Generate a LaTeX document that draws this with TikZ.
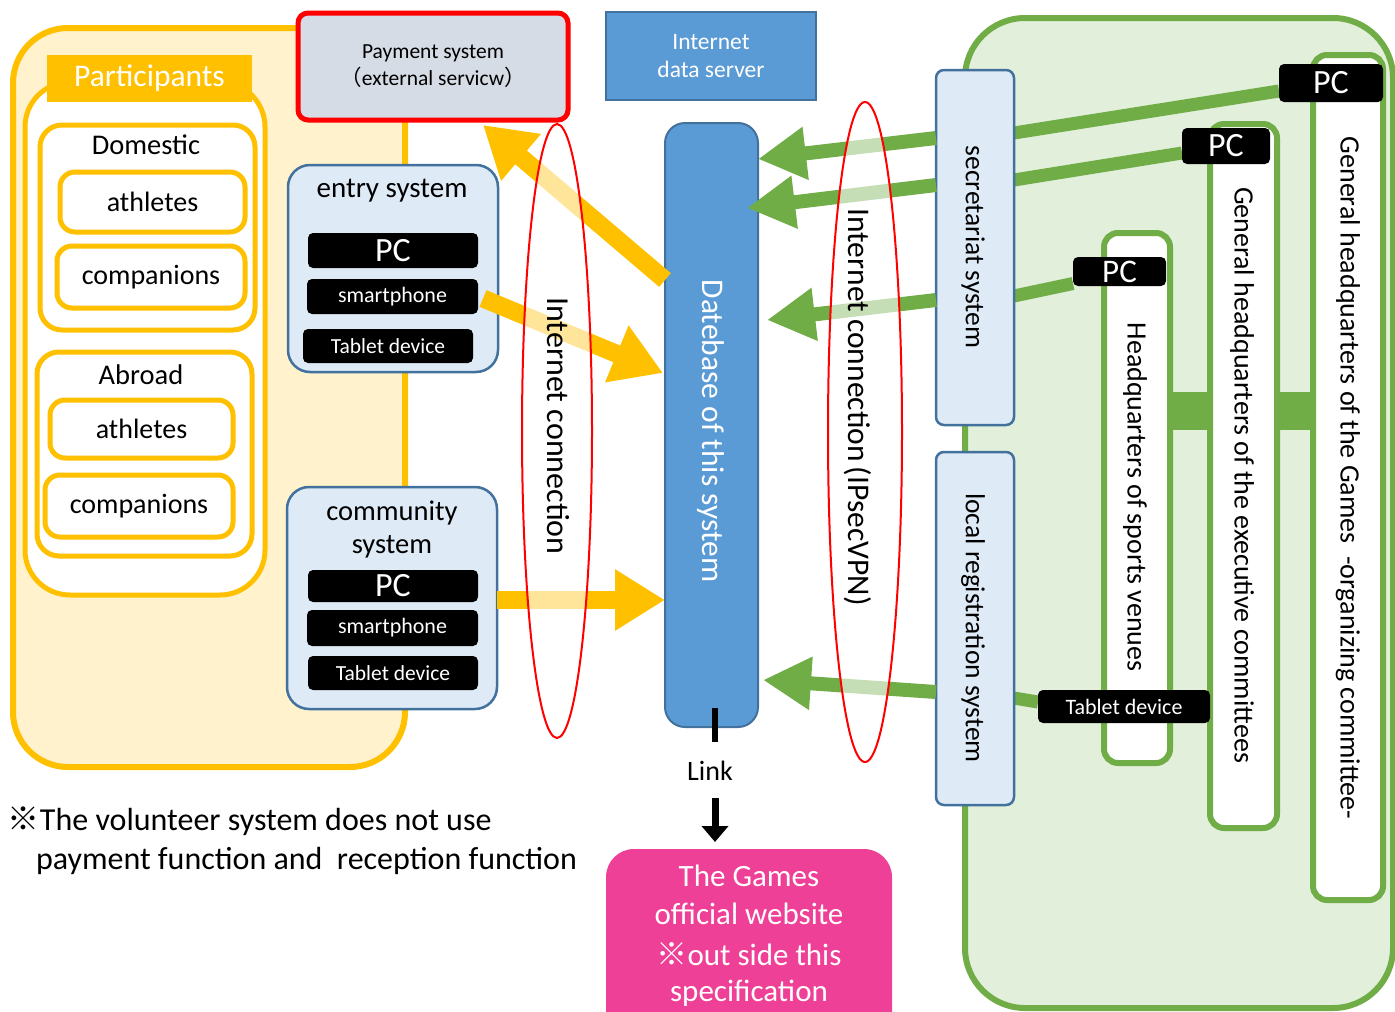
\documentclass[tikz,border=0pt]{standalone}
\usepackage{fontspec}
\setmainfont{Carlito}
\newfontfamily\cjk{Noto Sans CJK JP}
\usetikzlibrary{arrows.meta,shapes.geometric}
\definecolor{ygold}{HTML}{FFC000}
\definecolor{ylight}{HTML}{FFF2CC}
\definecolor{gfill}{HTML}{E2EFDA}
\definecolor{ggreen}{HTML}{70AD47}
\definecolor{bfill}{HTML}{DEEBF7}
\definecolor{bedge}{HTML}{41719C}
\definecolor{bmid}{HTML}{5B9BD5}
\definecolor{payfill}{HTML}{D6DCE5}
\definecolor{pinkbox}{RGB}{238,64,150}
\newcommand\fsz[2]{\fontsize{#1}{#2}\selectfont}
\pgfdeclarelayer{back}
\pgfdeclarelayer{mid}
\pgfdeclarelayer{front}
\pgfsetlayers{back,mid,main,front}
\tikzset{
 nw/.style={anchor=north west, inner sep=0pt, outer sep=0pt},
 txt/.style={inner sep=0pt, outer sep=0pt, text=black},
 yellowframe/.style={nw, draw=ygold, line width=5pt, fill=white},
 blackbox/.style={nw, fill=black, rounded corners=5pt, text=white},
 bluebox/.style={nw, fill=bfill, draw=bedge, line width=2.5pt},
 greenbar/.style={nw, fill=white, draw=ggreen, line width=6pt, rounded corners=14pt},
 band/.style={draw=ggreen, line width=38pt},
 yarrow/.style={draw=ygold, line width=18pt, -{Triangle[length=50pt,width=58pt]}},
 garrow/.style={draw=ggreen, line width=14pt, -{Triangle[length=48pt,width=50pt]}},
 gline/.style={draw=ggreen, line width=13pt},
 netring/.style={ellipse, draw=red, line width=2pt, fill=white, fill opacity=0.6, inner sep=0pt},
}
\begin{document}
\begin{tikzpicture}[x=1pt,y=-1pt]
\useasboundingbox (0,0) rectangle (1395,1012);
% ---------- staff area ----------
\begin{pgfonlayer}{back}
\node[nw, draw=ggreen, fill=gfill, line width=6pt, rounded corners=60pt, minimum width=428pt, minimum height=990pt] (staffArea) at (965,18) {};
\end{pgfonlayer}
% ---------- participants ----------
\node[nw, draw=ygold, fill=ylight, line width=6pt, rounded corners=55pt, minimum width=392pt, minimum height=739pt] (partArea) at (13,28) {};
\node[yellowframe, rounded corners=45pt, minimum width=240pt, minimum height=513pt] (partInner) at (25,82) {};
\node[nw, fill=ygold, minimum width=205pt, minimum height=47pt, text=white, font=\fsz{31.5}{36}] (partTitle) at (47,55) {Participants};
\node[yellowframe, rounded corners=22pt, minimum width=215pt, minimum height=205pt] (dom) at (40,125) {};
\node[txt, font=\fsz{28.5}{32}] (domT) at (146,145) {Domestic};
\node[yellowframe, rounded corners=15pt, minimum width=185pt, minimum height=60pt, font=\fsz{28}{32}] (domAth) at (60,172) {athletes};
\node[yellowframe, rounded corners=15pt, minimum width=188pt, minimum height=62pt, font=\fsz{28}{32}] (domComp) at (57,246) {companions};
\node[yellowframe, rounded corners=22pt, minimum width=215pt, minimum height=204pt] (abr) at (37,352) {};
\node[txt, font=\fsz{28.5}{32}] (abrT) at (141,375) {Abroad};
\node[yellowframe, rounded corners=15pt, minimum width=183pt, minimum height=58pt, font=\fsz{28}{32}] (abrAth) at (50,400) {athletes};
\node[yellowframe, rounded corners=15pt, minimum width=188pt, minimum height=62pt, font=\fsz{28}{32}] (abrComp) at (45,475) {companions};
% ---------- organisation bars ----------
\node[greenbar, minimum width=70pt, minimum height=845pt] (ghqBar) at (1313,55) {};
\node[greenbar, minimum width=67pt, minimum height=704pt] (gexBar) at (1210,124) {};
\node[greenbar, minimum width=66pt, minimum height=530pt] (hqBar) at (1104,233) {};
\draw[band] ([yshift=87pt]hqBar.east) -- ([yshift=65pt]gexBar.west);
\draw[band] ([yshift=65pt]gexBar.east) -- ([yshift=66.5pt]ghqBar.west);
\node[txt, rotate=-90, font=\fsz{28}{32}] (ghqT) at (1348,478) {General headquarters of the Games\ \ -organizing committee-};
\node[txt, rotate=-90, font=\fsz{28}{32}] (gexT) at (1242,475) {General headquarters of the executive committees};
\node[txt, rotate=-90, font=\fsz{28}{32}] (hqT) at (1135,497) {Headquarters of sports venues};
\node[blackbox, minimum width=104pt, minimum height=38pt, font=\fsz{34}{36}] (pcA) at (1279,64) {PC};
\node[blackbox, minimum width=88pt, minimum height=36pt, font=\fsz{34}{36}] (pcB) at (1182,128) {PC};
\node[blackbox, minimum width=93pt, minimum height=29pt, font=\fsz{33}{36}] (pcC) at (1073,257) {PC};
\node[blackbox, minimum width=172pt, minimum height=33pt, font=\fsz{22}{26}] (tabR) at (1038,690) {Tablet device};
\node[bluebox, rounded corners=8pt, minimum width=78pt, minimum height=355pt] (sec) at (936,70) {};
\node[txt, rotate=-90, font=\fsz{27.5}{30}] (secT) at (973,247) {secretariat system};
\node[bluebox, rounded corners=8pt, minimum width=78pt, minimum height=353pt] (loc) at (936,452) {};
\node[txt, rotate=-90, font=\fsz{27.5}{30}] (locT) at (973,628) {local registration system};
\begin{pgfonlayer}{mid}
\draw[gline] ([yshift=-8pt]pcA.west) -- ([yshift=114.5pt]sec.east);
\draw[gline] ([yshift=-7pt]pcB.west) -- ([yshift=67.5pt]sec.east);
\draw[gline] ([yshift=-12pt]pcC.west) -- ([yshift=-48.5pt]sec.east);
\draw[gline] ([yshift=4.5pt]tabR.west) -- ([yshift=-69.5pt]loc.east);
\end{pgfonlayer}
% ---------- top boxes ----------
\node[nw, draw=red, line width=5pt, fill=payfill, rounded corners=10pt, minimum width=270pt, minimum height=107pt, align=center, font=\fsz{21.5}{27}] (pay) at (298,13) {\rule{0pt}{6pt}Payment system\\{\cjk （}external servicw{\cjk ）}};
\node[nw, fill=bmid, draw=bedge, line width=2pt, minimum width=210pt, minimum height=88pt, text=white, align=center, font=\fsz{23.5}{28}] (ids) at (606,12) {\rule{0pt}{4pt}Internet\\data server};
% ---------- entry system ----------
\node[bluebox, rounded corners=22pt, minimum width=210pt, minimum height=207pt] (entry) at (288,165) {};
\node[txt, font=\fsz{29}{32}] (entryT) at (392,191) {entry system};
\node[blackbox, minimum width=170pt, minimum height=35pt, font=\fsz{34}{36}] (pc1) at (308,233) {PC};
\node[blackbox, minimum width=171pt, minimum height=35pt, font=\fsz{22}{26}] (sp1) at (307,279) {smartphone};
\node[blackbox, minimum width=170pt, minimum height=34pt, font=\fsz{21.5}{26}] (tab1) at (303,329) {Tablet device};
% ---------- community system ----------
\node[bluebox, rounded corners=22pt, minimum width=210pt, minimum height=222pt] (comm) at (287,487) {};
\node[txt, align=center, font=\fsz{28.5}{33}] (commT) at (392,529) {community\\system};
\node[blackbox, minimum width=170pt, minimum height=32pt, font=\fsz{34}{36}] (pc2) at (308,570) {PC};
\node[blackbox, minimum width=171pt, minimum height=36pt, font=\fsz{22}{26}] (sp2) at (307,610) {smartphone};
\node[blackbox, minimum width=170pt, minimum height=34pt, font=\fsz{21.5}{26}] (tab2) at (308,656) {Tablet device};
% ---------- database ----------
\node[nw, fill=bmid, draw=bedge, line width=2pt, rounded corners=20pt, minimum width=93pt, minimum height=604pt] (db) at (665,123) {};
\node[txt, rotate=-90, text=white, font=\fsz{31.5}{34}] (dbT) at (711,431) {Datebase of this system};
% ---------- arrows and internet rings ----------
\begin{pgfonlayer}{front}
\draw[yarrow] ([yshift=145pt]db.west) -- ([xshift=50pt,yshift=-5pt]pay.south);
\draw[yarrow] ([xshift=5pt,yshift=-2pt]sp1.east) -- ([xshift=-2pt,yshift=52pt]db.west);
\draw[yarrow] ([yshift=-2pt]comm.east) -- ([yshift=-175pt]db.west);
\draw[garrow] ([yshift=109.5pt]sec.west) -- ([yshift=266pt]db.east);
\draw[garrow] ([yshift=62.5pt]sec.west) -- ([xshift=-11pt,yshift=217pt]db.east);
\draw[garrow] ([yshift=-52.5pt]sec.west) -- ([xshift=9pt,yshift=105pt]db.east);
\draw[garrow] ([yshift=-63.5pt]loc.west) -- ([xshift=5pt,yshift=-255pt]db.east);
\node[netring, minimum width=70pt, minimum height=614pt] (ringL) at (557,431) {};
\node[netring, minimum width=74pt, minimum height=660pt] (ringR) at (865,432) {};
\node[txt, rotate=-90, font=\fsz{32}{36}] (ringLT) at (558,426) {Internet connection};
\node[txt, rotate=-90, font=\fsz{31.5}{36}] (ringRT) at (858,407) {Internet connection\,(IPsecVPN)};
\end{pgfonlayer}
% ---------- link and website ----------
\coordinate (linkEnd) at (715,742);
\draw[line width=6pt] ([xshift=3.5pt,yshift=19pt]db.south) -- (linkEnd);
\node[txt, font=\fsz{28}{32}] (lnk) at (710,771) {Link};
\node[nw, fill=pinkbox, rounded corners=28pt, minimum width=286pt, minimum height=190pt] (games) at (606,849) {};
\coordinate (linkArrowStart) at (715,798);
\draw[line width=7pt, -{Triangle[length=16pt,width=26pt]}] (linkArrowStart) -- ([xshift=-34pt,yshift=7pt]games.north);
\node[txt, text=white, align=center, font=\fsz{31}{38}] (gamesT) at (749,895) {The Games\\official website};
\node[txt, text=white, align=center, font=\fsz{31}{36}] (gamesN) at (749,975) {{\cjk ※}out side this\\specification};
% ---------- note ----------
\node[txt, anchor=base west, font=\fsz{32}{36}] (note1) at (8,830) {{\cjk ※}The volunteer system does not use};
\node[txt, anchor=base west, font=\fsz{32}{36}] (note2) at (36,869) {payment function and\ \ reception function};
\end{tikzpicture}
\end{document}
